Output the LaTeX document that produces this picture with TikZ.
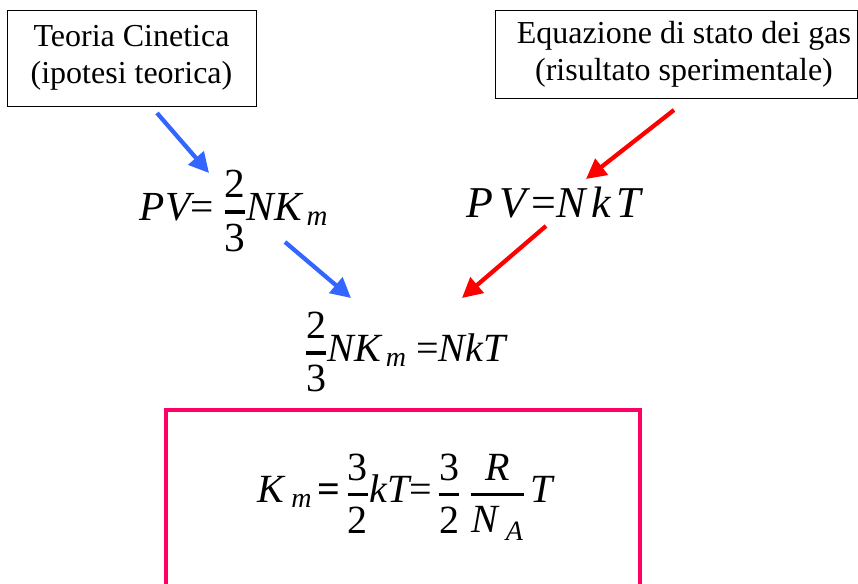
\documentclass[tikz,border=0pt]{standalone}
\usepackage{amsmath}
\usepackage{fontspec}
\setmainfont{Liberation Serif}
\usetikzlibrary{arrows.meta}
\definecolor{arrowblue}{RGB}{51,102,255}
\definecolor{arrowred}{RGB}{255,0,0}
\definecolor{resultpink}{RGB}{255,0,102}
\newcommand{\barfrac}[2]{\genfrac{}{}{2.6pt}{0}{#1}{#2}}
\newcommand{\vi}[1]{\text{\itshape #1}}
\newcommand{\digit}[1]{\text{#1}}
\newcommand{\eqs}{\text{=}}
\newcommand{\eqbold}{\text{\bfseries =}}
\begin{document}
\begin{tikzpicture}[x=0.75pt, y=-0.75pt, inner sep=0pt, outer sep=0pt,
	labelbox/.style={draw=black, line width=0.75pt, align=center,
		font=\fontsize{24}{28}\selectfont},
	eqn/.style={font=\fontsize{30}{34}\selectfont},
	bluearrow/.style={draw=arrowblue, line width=3.2pt, -{Triangle[length=15pt,width=15pt]}},
	redarrow/.style={draw=arrowred, line width=3.2pt, -{Triangle[length=15pt,width=15pt]}}]
	\useasboundingbox (0, 0) rectangle (858, 583);
	% boxes on top
	\node[labelbox, minimum width=186.75pt, minimum height=72pt] (teoria) at (131.5, 58)
		{Teoria Cinetica\\(ipotesi teorica)};
	\node[labelbox, minimum width=271.5pt, minimum height=66pt] (stato) at (676, 54)
		{\hspace*{12pt}Equazione di stato dei gas\\\hspace*{12pt}(risultato sperimentale)};
	% equations
	\node[eqn, font=\fontsize{31}{35}\selectfont] (pvkin) at (234, 211)
		{$\displaystyle \vi{PV}\eqs\;\barfrac{\digit{2}}{\digit{3}}\vi{NK}_{\,\vi{m}}$};
	\node[eqn, font=\fontsize{33}{38}\selectfont] (pvgas) at (554, 203)
		{$\vi{P}\,\vi{V}\,\eqs\vi{N}\,\vi{k}\,\vi{T}$};
	\node[eqn] (equal) at (405, 352)
		{$\displaystyle \barfrac{\digit{2}}{\digit{3}}\vi{NK}_{\,\vi{m}}\;\eqs\vi{NkT}$};
	\node[eqn] (kmres) at (405, 497)
		{$\displaystyle \vi{K}_{\;\vi{m}}\,\eqbold\,\barfrac{\digit{3}}{\digit{2}}\vi{kT}\eqs\,\barfrac{\digit{3}}{\digit{2}}\;\barfrac{\vi{R}}{\vi{N}_{\;\vi{A}}}\,\vi{T}$};
	% result frame, open at the bottom
	\path[draw=resultpink, line width=3pt] (166, 590) -- (166, 410) -- (640, 410) -- (640, 590);
	% arrow ends
	\coordinate (b1s) at (157, 113);
	\coordinate (b1e) at (209, 173);
	\coordinate (b2s) at (285, 242);
	\coordinate (b2e) at (351, 298);
	\coordinate (r1s) at (674, 110);
	\coordinate (r1e) at (586, 179);
	\coordinate (r2s) at (546, 226);
	\coordinate (r2e) at (462, 298);
	\path[bluearrow] (b1s) -- (b1e);
	\path[bluearrow] (b2s) -- (b2e);
	\path[redarrow] (r1s) -- (r1e);
	\path[redarrow] (r2s) -- (r2e);
\end{tikzpicture}
\end{document}
